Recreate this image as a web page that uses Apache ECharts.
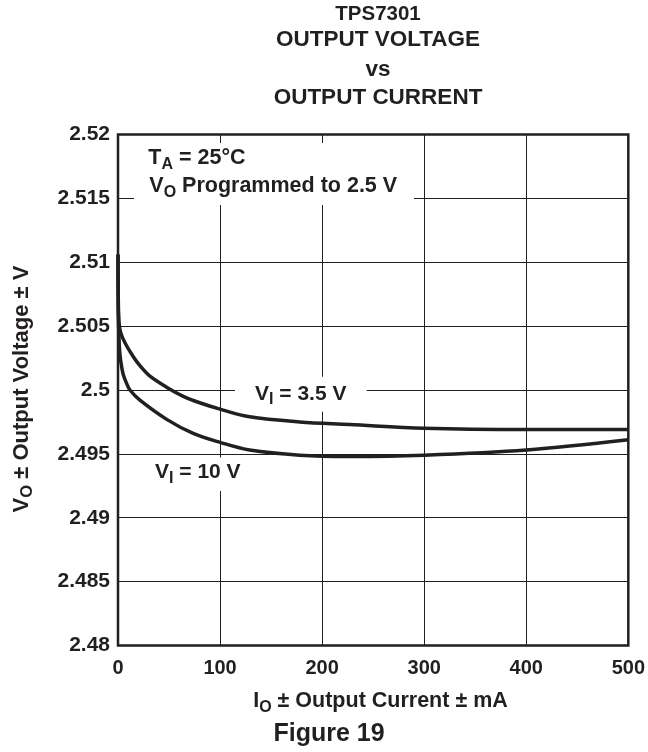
<!DOCTYPE html>
<html>
<head>
<meta charset="utf-8">
<script src="https://cdn.jsdelivr.net/npm/echarts@6/dist/echarts.min.js"></script>
<style>
  html, body { margin: 0; padding: 0; background: #fff; }
  #chart { width: 648px; height: 752px; }
</style>
</head>
<body>
<div id="chart"></div>
<script>
// ---- data ----
const xTicks = ['0', '100', '200', '300', '400', '500'];
const yTicks = ['2.48', '2.485', '2.49', '2.495', '2.5', '2.505', '2.51', '2.515', '2.52'];

// V_I = 3.5 V
const i35 = [0, 0.3, 1, 2.6, 6.8, 15, 21.5, 31, 48, 64, 80, 100, 129, 178, 227, 300, 400, 500];
const v35 = [2.5106, 2.5070, 2.5053, 2.5045, 2.5037, 2.5026, 2.5019, 2.5011, 2.5002, 2.4995, 2.4990, 2.4985, 2.4979, 2.4975, 2.4973, 2.4970, 2.4969, 2.4969];

// V_I = 10 V
const i10 = [0, 0.3, 1, 2, 3.6, 5.2, 8.5, 11.7, 21.5, 47.7, 73.7, 100, 129, 178, 227, 300, 400, 500];
const v10 = [2.5106, 2.5060, 2.5040, 2.5027, 2.5018, 2.5012, 2.5005, 2.5000, 2.4992, 2.4977, 2.4966, 2.4959, 2.4953, 2.4949, 2.4948, 2.4949, 2.4953, 2.4961];

const INK = '#231f20';
const FF = '"Liberation Sans", Arial, Helvetica, sans-serif';

function pair(xs, ys) { return xs.map((x, k) => [x, ys[k]]); }
function tickLabel(list, v) {
  const hit = list.find(s => Math.abs(parseFloat(s) - v) < 1e-7);
  return hit !== undefined ? hit : '';
}

function richSet(main, sub, subLH) {
  return {
    m: { fontFamily: FF, fontWeight: 'bold', fontSize: main, lineHeight: 28, fill: INK, color: INK },
    s: { fontFamily: FF, fontWeight: 'bold', fontSize: sub, lineHeight: subLH, verticalAlign: 'bottom', fill: INK, color: INK }
  };
}
const richTxt = richSet(21.5, 16, 10);
const richAx = richSet(21.5, 16, 10);

function txt(x, y, text, size, align) {
  return {
    type: 'text', z: 5, x: x, y: y,
    style: { text: text, x: 0, y: 0, fill: INK, font: 'bold ' + size + 'px ' + FF,
             textAlign: align || 'center', textVerticalAlign: 'middle' }
  };
}
function rtxt(x, y, text, rich, align, rot) {
  return {
    type: 'text', z: 5, x: x, y: y, rotation: rot || 0,
    style: { text: text, x: 0, y: 0, rich: rich, fill: INK,
             font: 'bold 21px ' + FF,
             textAlign: align || 'left', textVerticalAlign: 'middle' }
  };
}
function mask(x, y, w, h) {
  return { type: 'rect', z: 1, shape: { x: x, y: y, width: w, height: h },
           style: { fill: '#ffffff' }, silent: true };
}

const chart = echarts.init(document.getElementById('chart'), null, { renderer: 'canvas' });
chart.setOption({
  animation: false,
  backgroundColor: '#ffffff',
  grid: {
    left: 118, right: 19, top: 134.5, bottom: 106.5,
    show: true, borderColor: INK, borderWidth: 2.5, backgroundColor: 'transparent'
  },
  xAxis: {
    type: 'value', min: 0, max: 500, interval: 100,
    axisLine: { show: false }, axisTick: { show: false },
    splitLine: { show: true, lineStyle: { color: INK, width: 1 } },
    axisLabel: { margin: 13, color: INK, fontFamily: FF, fontWeight: 'bold', fontSize: 20,
                 formatter: v => tickLabel(xTicks, v) }
  },
  yAxis: {
    type: 'value', min: 2.48, max: 2.52, interval: 0.005,
    axisLine: { show: false }, axisTick: { show: false },
    splitLine: { show: true, lineStyle: { color: INK, width: 1 } },
    axisLabel: { margin: 8, color: INK, fontFamily: FF, fontWeight: 'bold', fontSize: 21,
                 formatter: v => tickLabel(yTicks, v) }
  },
  series: [
    { name: 'VI = 3.5 V', type: 'line', data: pair(i35, v35), showSymbol: false,
      smooth: 0.35, lineStyle: { color: INK, width: 3.5 }, z: 2 },
    { name: 'VI = 10 V', type: 'line', data: pair(i10, v10), showSymbol: false,
      smooth: 0.35, lineStyle: { color: INK, width: 3.5 }, z: 2 }
  ],
  graphic: [
    // white boxes behind in-plot annotations (interrupt the grid like the reference)
    mask(134, 143, 280, 62),
    mask(235, 376.7, 131.7, 35),
    mask(150, 457.5, 97, 33.5),
    // titles
    txt(378, 14.5, 'TPS7301', 20.5),
    txt(378, 40, 'OUTPUT VOLTAGE', 22.5),
    txt(378, 70, 'vs', 22.5),
    txt(378, 97.5, 'OUTPUT CURRENT', 22.5),
    // annotations
    rtxt(148.3, 158.2, '{m|T}{s|A}{m| = 25°C}', richTxt),
    rtxt(149.3, 186.5, '{m|V}{s|O}{m| Programmed to 2.5 V}', richTxt),
    rtxt(255, 394, '{m|V}{s|I}{m| = 3.5 V}', richSet(21, 16, 10)),
    rtxt(155, 472.5, '{m|V}{s|I}{m| = 10 V}', richSet(21, 16, 10)),
    // axis titles
    rtxt(380.5, 701.5, '{m|I}{s|O}{m| ± Output Current ± mA}', richAx, 'center'),
    rtxt(22, 389, '{m|V}{s|O}{m| ± Output Voltage ± V}', richSet(22, 16.5, 10), 'center', Math.PI / 2),
    // figure caption
    txt(329, 734, 'Figure 19', 25)
  ]
});
</script>
</body>
</html>
